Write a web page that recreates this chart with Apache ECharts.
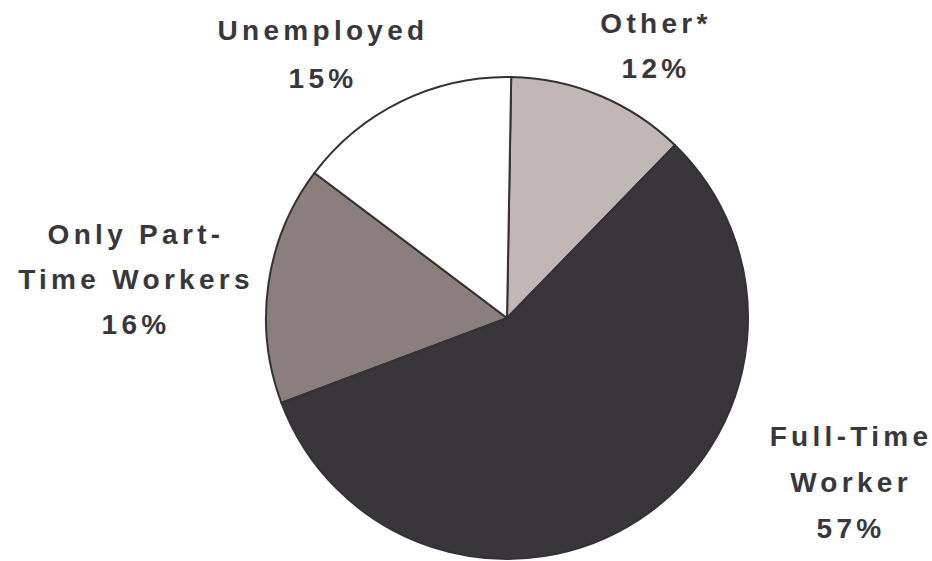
<!DOCTYPE html>
<html>
<head>
<meta charset="utf-8">
<script src="https://cdn.jsdelivr.net/npm/echarts@6/dist/echarts.min.js"></script>
<style>
  html, body { margin: 0; padding: 0; background: #ffffff; }
  #chart { width: 932px; height: 561px; }
  /* wide tracking on the slice labels */
  #chart svg text { letter-spacing: 4.3px; }
</style>
</head>
<body>
<div id="chart"></div>
<script>
// Share of households by work status (percent)
const categories = ['Other*', 'Full-Time Worker', 'Only Part-Time Workers', 'Unemployed'];
const labelLines = ['Other*', 'Full-Time\nWorker', 'Only Part-\nTime Workers', 'Unemployed'];
const values = [12, 57, 16, 15];

const colors = ['#c1b7b4', '#38363b', '#8b7f7b', '#ffffff'];
// label block centres, in pixels, per slice
const labelPos = [
  { x: 656, y: 46, lh: 45 },
  { x: 851, y: 482, lh: 46 },
  { x: 136, y: 279, lh: 45 },
  { x: 323, y: 54, lh: 48 }
];

const chart = echarts.init(document.getElementById('chart'), null, { renderer: 'svg' });

chart.setOption({
  animation: false,
  backgroundColor: '#ffffff',
  series: [{
    type: 'pie',
    center: [507, 318],
    radius: 241,
    startAngle: 89,
    clockwise: true,
    avoidLabelOverlap: false,
    silent: true,
    itemStyle: { borderColor: '#333236', borderWidth: 2 },
    label: {
      show: true,
      position: 'outside',
      color: '#38383c',
      fontFamily: 'Liberation Sans, Arial, sans-serif',
      fontWeight: 'bold',
      fontSize: 28,
      align: 'center',
      formatter: p => labelLines[p.dataIndex] + '\n' + p.value + '%'
    },
    labelLine: { show: false },
    labelLayout: p => ({
      x: labelPos[p.dataIndex].x,
      y: labelPos[p.dataIndex].y,
      align: 'center',
      verticalAlign: 'middle'
    }),
    data: categories.map((name, i) => ({
      name: name,
      value: values[i],
      itemStyle: { color: colors[i] },
      label: { lineHeight: labelPos[i].lh }
    }))
  }]
});
</script>
</body>
</html>
